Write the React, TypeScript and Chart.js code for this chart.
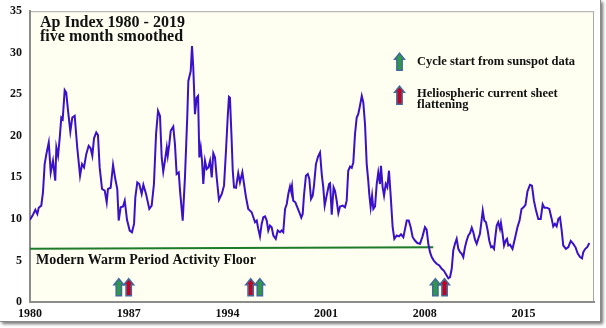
import React, { useEffect, useRef } from "react";
import { Chart, registerables } from "chart.js";

Chart.register(...registerables);

const YEARS = [
  1980.0, 1980.21, 1980.38, 1980.52, 1980.62, 1980.8, 1980.92, 1981.04, 1981.16, 1981.33,
  1981.47, 1981.63, 1981.79, 1981.87, 1981.99, 1982.11, 1982.22, 1982.32, 1982.46, 1982.57,
  1982.7, 1982.86, 1983.0, 1983.17, 1983.35, 1983.55, 1983.69, 1983.83, 1983.99, 1984.16,
  1984.3, 1984.42, 1984.54, 1984.7, 1984.82, 1984.94, 1985.11, 1985.3, 1985.44, 1985.53,
  1985.72, 1985.89, 1986.05, 1986.19, 1986.29, 1986.43, 1986.6, 1986.72, 1986.88, 1987.07,
  1987.23, 1987.38, 1987.47, 1987.61, 1987.75, 1987.92, 1988.04, 1988.23, 1988.46, 1988.63,
  1988.79, 1988.94, 1989.08, 1989.22, 1989.34, 1989.45, 1989.57, 1989.7, 1989.77, 1989.88,
  1989.98, 1990.16, 1990.28, 1990.4, 1990.55, 1990.64, 1990.83, 1990.99, 1991.16, 1991.23,
  1991.4, 1991.49, 1991.58, 1991.7, 1991.82, 1991.92, 1992.01, 1992.11, 1992.2, 1992.29,
  1992.41, 1992.53, 1992.65, 1992.77, 1992.89, 1993.0, 1993.12, 1993.24, 1993.4, 1993.6,
  1993.76, 1993.9, 1994.02, 1994.11, 1994.18, 1994.29, 1994.38, 1994.47, 1994.61, 1994.77,
  1994.89, 1995.06, 1995.18, 1995.32, 1995.48, 1995.6, 1995.72, 1995.84, 1995.96, 1996.08,
  1996.19, 1996.31, 1996.43, 1996.55, 1996.67, 1996.79, 1996.9, 1997.02, 1997.14, 1997.26,
  1997.43, 1997.57, 1997.73, 1997.85, 1997.96, 1998.09, 1998.21, 1998.32, 1998.44, 1998.51,
  1998.58, 1998.67, 1998.82, 1998.96, 1999.1, 1999.24, 1999.34, 1999.43, 1999.57, 1999.7,
  1999.81, 1999.93, 2000.05, 2000.14, 2000.28, 2000.43, 2000.57, 2000.69, 2000.8, 2000.9,
  2001.04, 2001.21, 2001.28, 2001.4, 2001.53, 2001.63, 2001.75, 2001.87, 2001.99, 2002.18,
  2002.34, 2002.46, 2002.57, 2002.7, 2002.82, 2002.93, 2003.05, 2003.17, 2003.28, 2003.4,
  2003.53, 2003.64, 2003.76, 2003.88, 2003.99, 2004.06, 2004.16, 2004.26, 2004.35, 2004.47,
  2004.59, 2004.7, 2004.82, 2004.89, 2005.01, 2005.11, 2005.23, 2005.34, 2005.46, 2005.58,
  2005.72, 2005.84, 2006.01, 2006.17, 2006.31, 2006.48, 2006.6, 2006.72, 2006.86, 2007.0,
  2007.14, 2007.3, 2007.47, 2007.66, 2007.84, 2008.01, 2008.13, 2008.25, 2008.37, 2008.49,
  2008.65, 2008.84, 2009.03, 2009.2, 2009.36, 2009.5, 2009.67, 2009.79, 2009.91, 2010.02,
  2010.14, 2010.26, 2010.38, 2010.5, 2010.62, 2010.73, 2010.85, 2010.97, 2011.09, 2011.21,
  2011.33, 2011.44, 2011.56, 2011.68, 2011.79, 2011.91, 2012.04, 2012.11, 2012.22, 2012.34,
  2012.46, 2012.57, 2012.7, 2012.79, 2012.91, 2013.0, 2013.1, 2013.21, 2013.33, 2013.4,
  2013.5, 2013.62, 2013.74, 2013.83, 2013.92, 2014.04, 2014.22, 2014.4, 2014.57, 2014.72,
  2014.86, 2015.0, 2015.14, 2015.28, 2015.46, 2015.6, 2015.74, 2015.89, 2016.05, 2016.22,
  2016.36, 2016.48, 2016.65, 2016.83, 2017.0, 2017.11, 2017.23, 2017.35, 2017.47, 2017.59,
  2017.71, 2017.82, 2018.01, 2018.18, 2018.35, 2018.53, 2018.7, 2018.84, 2019.01, 2019.15,
  2019.24, 2019.38, 2019.52, 2019.67,
];

const AP_INDEX = [
  9.9, 10.5, 11.1, 10.6, 11.35, 11.6, 13.2, 16.6, 17.8, 19.2,
  15.6, 17.0, 14.6, 18.6, 17.6, 19.8, 22.2, 22.0, 25.5, 25.2,
  23.0, 20.5, 22.2, 22.4, 18.6, 15.2, 16.6, 16.2, 17.8, 18.8,
  18.5, 17.6, 19.7, 20.4, 20.1, 16.2, 13.6, 13.4, 12.0, 13.6,
  13.75, 16.5, 14.8, 13.6, 9.8, 11.4, 11.5, 12.2, 9.9, 8.6,
  8.4, 9.4, 12.6, 14.4, 14.2, 13.0, 14.1, 13.0, 11.2, 11.6,
  14.2, 20.2, 23.0, 22.4, 17.4, 15.7, 17.0, 18.6, 17.6, 19.0,
  20.6, 21.1, 19.0, 15.4, 15.6, 13.4, 9.8, 15.0, 22.6, 26.6,
  27.8, 30.8, 28.2, 22.6, 24.6, 24.8, 17.4, 18.6, 17.0, 14.2,
  17.0, 16.0, 16.2, 17.0, 15.0, 17.9, 17.4, 15.0, 12.3, 13.0,
  14.0, 18.2, 22.2, 24.7, 24.6, 20.0, 15.8, 13.8, 13.75, 15.5,
  14.4, 15.6, 14.2, 12.6, 11.2, 11.0, 10.8, 10.2, 9.6, 9.8,
  8.8, 7.9, 9.4, 10.2, 10.3, 9.8, 8.6, 9.2, 9.0, 8.0,
  7.6, 8.6, 8.4, 8.6, 8.4, 11.2, 11.8, 13.0, 13.9, 13.4,
  14.0, 12.2, 12.0, 11.4, 10.8, 10.15, 10.6, 12.8, 15.2, 15.4,
  14.8, 12.4, 12.8, 14.0, 16.6, 17.5, 18.0, 15.4, 13.8, 11.6,
  12.8, 14.2, 14.3, 10.5, 13.8, 13.4, 12.2, 10.7, 11.5, 11.6,
  11.4, 12.2, 15.8, 16.3, 16.15, 16.8, 20.2, 22.2, 22.6, 23.6,
  24.8, 24.0, 21.4, 16.6, 14.6, 13.0, 11.4, 12.8, 11.2, 11.5,
  14.2, 15.6, 14.2, 16.4, 13.8, 12.8, 14.2, 13.8, 15.8, 12.8,
  9.0, 7.6, 8.0, 7.9, 8.15, 7.8, 8.8, 9.8, 9.8, 9.0,
  7.8, 7.4, 7.1, 7.0, 7.9, 9.0, 8.7, 7.0, 6.0, 5.4,
  4.95, 4.6, 4.4, 4.0, 3.75, 3.35, 2.85, 3.0, 4.0, 6.2,
  7.0, 7.6, 6.4, 6.0, 5.8, 5.4, 6.6, 7.4, 8.0, 8.3,
  8.95, 8.4, 7.5, 7.0, 7.6, 8.2, 10.0, 11.0, 9.8, 9.6,
  8.6, 7.4, 6.6, 6.7, 6.4, 7.8, 9.2, 9.6, 8.8, 9.5,
  8.4, 6.8, 7.4, 7.6, 6.8, 6.9, 6.4, 7.7, 9.0, 9.8,
  11.2, 11.4, 11.7, 13.3, 14.1, 14.0, 12.2, 11.0, 10.0, 10.0,
  11.75, 11.35, 11.35, 11.2, 10.0, 9.1, 9.4, 9.1, 10.0, 10.2,
  8.6, 6.8, 6.4, 6.6, 7.35, 7.0, 6.55, 5.85, 5.4, 5.25,
  6.0, 6.4, 6.6, 7.1,
];

const FLOOR_YEARS = [1980, 2008.6];
const FLOOR_VALUES = [6.4, 6.6];

const X_TICKS = [1980, 1987, 1994, 2001, 2008, 2015];
const Y_TICKS = [0, 5, 10, 15, 20, 25, 30, 35];

const CYCLE_START_ARROWS = [1986.3, 1996.3, 2008.75];
const HCS_FLATTENING_ARROWS = [1987.0, 1995.65, 2009.4];
const ARROW_BASE = 0.75;
const ARROW_TIP = 2.8;

const TITLE_LINES = ["Ap Index 1980 - 2019", "five month smoothed"];
const FLOOR_LABEL = "Modern Warm Period Activity Floor";
const LEGEND_CYCLE = ["Cycle start from sunspot data"];
const LEGEND_HCS = ["Heliospheric current sheet", "flattening"];

const LINE_COLOR = "#3A10C8";
const FLOOR_COLOR = "#1E7B2A";
const GREEN_FILL = "#2E9A46";
const RED_FILL = "#C8001E";
const ARROW_EDGE = "#41699A";
const PLOT_BG = "#FEFEF1";
const SERIF = "'Liberation Serif', 'DejaVu Serif', serif";

function drawArrow(ctx: CanvasRenderingContext2D, cx: number, top: number, bottom: number, fill: string) {
  const sw = 2.6;
  const hw = 4.8;
  const hh = 6;
  ctx.save();
  ctx.beginPath();
  ctx.moveTo(cx, top);
  ctx.lineTo(cx + hw, top + hh);
  ctx.lineTo(cx + sw, top + hh);
  ctx.lineTo(cx + sw, bottom);
  ctx.lineTo(cx - sw, bottom);
  ctx.lineTo(cx - sw, top + hh);
  ctx.lineTo(cx - hw, top + hh);
  ctx.closePath();
  ctx.fillStyle = fill;
  ctx.fill();
  ctx.strokeStyle = ARROW_EDGE;
  ctx.lineWidth = 1.6;
  ctx.lineJoin = "miter";
  ctx.stroke();
  ctx.restore();
}

const decorPlugin = {
  id: "decor",
  beforeDraw(chart: any) {
    const { ctx, chartArea: a } = chart;
    ctx.save();
    ctx.fillStyle = PLOT_BG;
    ctx.fillRect(a.left, a.top, a.right - a.left, a.bottom - a.top);
    ctx.strokeStyle = "#A8A8A8";
    ctx.lineWidth = 1;
    ctx.strokeRect(a.left + 0.5, a.top + 0.5, a.right - a.left - 1, a.bottom - a.top);
    ctx.restore();
  },
  afterDatasetsDraw(chart: any) {
    const { ctx, chartArea: a, scales } = chart;
    const xs = scales.x;
    const ys = scales.y;
    const top = ys.getPixelForValue(ARROW_TIP);
    const bottom = ys.getPixelForValue(ARROW_BASE);
    CYCLE_START_ARROWS.forEach((yr) => drawArrow(ctx, xs.getPixelForValue(yr), top, bottom, GREEN_FILL));
    HCS_FLATTENING_ARROWS.forEach((yr) => drawArrow(ctx, xs.getPixelForValue(yr), top, bottom, RED_FILL));

    ctx.save();
    ctx.fillStyle = "#111";
    ctx.textAlign = "left";
    ctx.textBaseline = "alphabetic";
    ctx.font = `bold 16px ${SERIF}`;
    ctx.fillText(TITLE_LINES[0], a.left + 10, a.top + 16);
    ctx.fillText(TITLE_LINES[1], a.left + 10, a.top + 30);

    ctx.font = `bold 14px ${SERIF}`;
    const fy = ys.getPixelForValue(FLOOR_VALUES[0]);
    ctx.fillText(FLOOR_LABEL, a.left + 6, fy + 15);

    const lx = a.left + 370;
    drawArrow(ctx, lx - 0.5, a.top + 42, a.top + 59, GREEN_FILL);
    drawArrow(ctx, lx - 0.5, a.top + 75, a.top + 93, RED_FILL);
    ctx.font = `bold 12.5px ${SERIF}`;
    ctx.fillText(LEGEND_CYCLE[0], lx + 17, a.top + 54);
    ctx.fillText(LEGEND_HCS[0], lx + 17, a.top + 86);
    ctx.fillText(LEGEND_HCS[1], lx + 17, a.top + 97);
    ctx.restore();
  },
};

export default function App() {
  const canvasRef = useRef<HTMLCanvasElement | null>(null);

  useEffect(() => {
    if (!canvasRef.current) return;
    const chart = new Chart(canvasRef.current, {
      type: "line",
      data: {
        datasets: [
          {
            label: "Floor",
            data: FLOOR_YEARS.map((x, i) => ({ x, y: FLOOR_VALUES[i] })),
            borderColor: FLOOR_COLOR,
            borderWidth: 2,
            pointRadius: 0,
            order: 2,
          },
          {
            label: "Ap",
            data: YEARS.map((x, i) => ({ x, y: AP_INDEX[i] })),
            borderColor: LINE_COLOR,
            borderWidth: 2,
            pointRadius: 0,
            tension: 0,
            order: 1,
          },
        ],
      },
      options: {
        responsive: false,
        animation: false,
        events: [],
        layout: { padding: { top: 10, right: 12, left: 0, bottom: 0 } },
        plugins: { legend: { display: false }, tooltip: { enabled: false }, title: { display: false } },
        scales: {
          x: {
            type: "linear",
            min: 1980,
            max: 2020,
            afterBuildTicks: (s: any) => {
              s.ticks = X_TICKS.map((v) => ({ value: v }));
            },
            afterFit: (s: any) => {
              s.height = 26;
            },
            grid: { display: false, drawTicks: true, tickLength: 4, color: "#888" },
            border: { display: true, color: "#8C8C8C", width: 2 },
            ticks: {
              color: "#111",
              font: { family: SERIF, weight: "bold", size: 12 },
              padding: 1,
              maxRotation: 0,
              callback: (v: any) => String(v),
            },
          },
          y: {
            type: "linear",
            min: 0,
            max: 35,
            afterBuildTicks: (s: any) => {
              s.ticks = Y_TICKS.map((v) => ({ value: v }));
            },
            afterFit: (s: any) => {
              s.width = 30;
            },
            grid: { display: false, drawTicks: true, tickLength: 4, color: "#888" },
            border: { display: true, color: "#8C8C8C", width: 2 },
            ticks: {
              color: "#111",
              font: { family: SERIF, weight: "bold", size: 12 },
              padding: 4,
              callback: (v: any) => String(v),
            },
          },
        },
      },
      plugins: [decorPlugin],
    });
    return () => chart.destroy();
  }, []);

  return (
    <div style={{ position: "fixed", left: 0, top: 0, width: 606, height: 328, background: "#fff", overflow: "hidden" }}>
      <div
        style={{
          position: "absolute",
          left: 0,
          top: 0,
          width: 600,
          height: 321,
          borderRight: "1px solid #8a8a8a",
          borderBottom: "1px solid #8a8a8a",
          boxShadow: "2px 2px 3px rgba(0,0,0,0.55)",
          background: "#fff",
        }}
      />
      <canvas ref={canvasRef} width={606} height={328} style={{ position: "absolute", left: 0, top: 0 }} />
    </div>
  );
}
